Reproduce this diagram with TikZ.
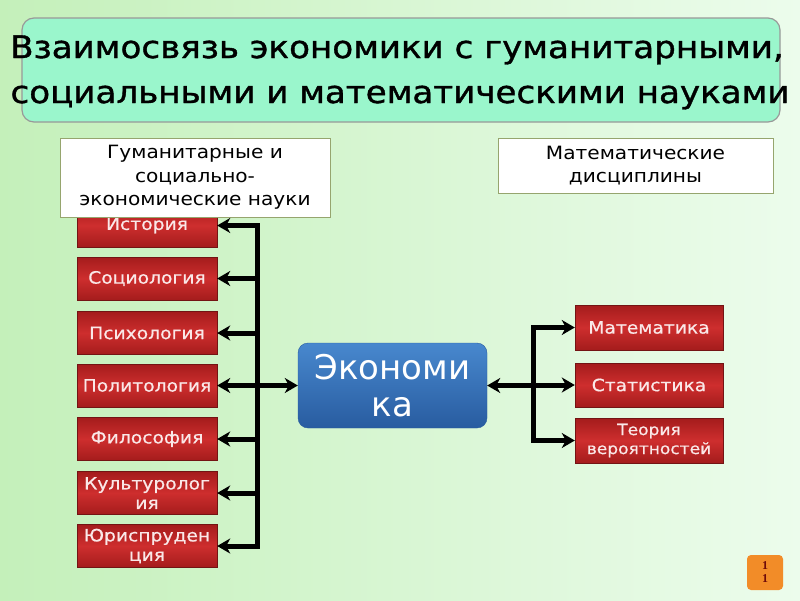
\documentclass[tikz,border=0pt]{standalone}
\usepackage{fontspec}
\setmainfont{DejaVu Sans}
\newfontfamily\widefont[FakeStretch=1.1]{DejaVu Sans}
\newfontfamily\redfont[FakeStretch=1.1,FakeBold=0.6]{DejaVu Sans}
\newfontfamily\titlefont[FakeStretch=1.1,FakeBold=1.2]{DejaVu Sans}
\newfontfamily\numfont{Liberation Serif}
\usetikzlibrary{arrows.meta}
\definecolor{bgL}{RGB}{196,240,186}
\definecolor{bgR}{RGB}{236,252,236}
\definecolor{mint}{RGB}{154,246,204}
\definecolor{redA}{RGB}{206,46,46}
\definecolor{redB}{RGB}{164,28,28}
\definecolor{redtext}{RGB}{250,232,232}
\definecolor{blueA}{RGB}{72,136,206}
\definecolor{blueB}{RGB}{40,92,160}
\definecolor{olive}{RGB}{150,165,110}
\definecolor{orangeA}{RGB}{242,140,40}
\definecolor{numred}{RGB}{110,10,10}
\tikzset{
  redbox/.style={rectangle, minimum width=140pt, minimum height=43pt, inner sep=1pt,
    top color=redB, bottom color=redB, middle color=redA, draw=redB!70!black, line width=0.4pt,
    text=redtext, align=center, font=\redfont\fontsize{17}{19.5}\selectfont},
  headbox/.style={rectangle, fill=white, draw=olive, line width=1pt, align=center,
    font=\widefont\fontsize{18.3}{23.5}\selectfont},
  titletext/.style={anchor=base, inner sep=0pt, font=\titlefont\fontsize{31}{40}\selectfont},
  conn/.style={line width=5pt, -{Stealth[length=13pt,width=15pt,inset=4pt]}},
  biconn/.style={line width=5pt, {Stealth[length=13pt,width=15pt,inset=4pt]}-{Stealth[length=13pt,width=15pt,inset=4pt]}},
  bar/.style={line width=5pt, line cap=rect}
}
\begin{document}
\begin{tikzpicture}[x=1pt,y=-1pt]
\useasboundingbox (0,0) rectangle (800,600);
\shade[left color=bgL, right color=bgR] (0,0) rectangle (800,600);
% title
\node[draw=gray!80, line width=1.2pt, fill=mint, rounded corners=12pt, minimum width=758pt, minimum height=104pt] (titlebox) at (401,70) {};
\node[titletext] (title1) at (397,58) {Взаимосвязь экономики с гуманитарными,};
\node[titletext] (title2) at (400,103) {социальными и математическими науками};
% left red boxes
\node[redbox] (hist) at (147,225.5) {История};
\node[redbox] (soc) at (147,278.5) {Социология};
\node[redbox] (psy) at (147,333) {Психология};
\node[redbox] (pol) at (147,385.5) {Политология};
\node[redbox] (phil) at (147,439) {Философия};
\node[redbox] (cult) at (147,493) {Культуролог\\ия};
\node[redbox] (jur) at (147,546) {Юриспруден\\ция};
% header boxes
\node[headbox, minimum width=270pt, minimum height=79pt] (hleft) at (195,177.5) {Гуманитарные и\\социально-\\экономические науки};
\node[headbox, minimum width=275pt, minimum height=55pt] (hright) at (635.5,165.5) {Математические\\дисциплины};
% economics
\node[rectangle, rounded corners=10pt, top color=blueA, bottom color=blueB, draw=blueB, minimum width=189pt, minimum height=85pt,
  text=white, align=center, font=\fontsize{34}{37}\selectfont] (econ) at (392.5,385.5) {Экономи\\ка};
% right red boxes
\node[redbox, minimum width=148pt, minimum height=45pt] (math) at (649,327.5) {Математика};
\node[redbox, minimum width=148pt, minimum height=44pt] (stat) at (649,385) {Статистика};
\node[redbox, minimum width=148pt, minimum height=45pt, font=\redfont\fontsize{15.5}{19}\selectfont] (prob) at (649,440.5) {Теория\\вероятностей};
% left bracket
\coordinate (ltop) at (257,225.5);
\coordinate (lbot) at (257,546);
\draw[bar] (ltop) -- (lbot);
\foreach \b in {hist,soc,psy,phil,cult,jur}{
  \draw[conn] (ltop |- \b.east) -- (\b.east);
}
\draw[biconn] (pol.east) -- (econ.west);
% right bracket
\coordinate (rtop) at (533,327.5);
\coordinate (rbot) at (533,440.5);
\draw[bar] (rtop) -- (rbot);
\draw[conn] (rtop |- econ.east) -- (econ.east);
\foreach \b in {math,stat,prob}{
  \draw[conn] (rtop |- \b.west) -- (\b.west);
}
% page number
\node[rectangle, rounded corners=4pt, fill=orangeA, minimum width=36pt, minimum height=35pt, inner sep=0pt,
  text=numred, align=center, font=\numfont\bfseries\fontsize{12}{13}\selectfont] (pg) at (765,572.5) {1\\1};
\end{tikzpicture}
\end{document}
